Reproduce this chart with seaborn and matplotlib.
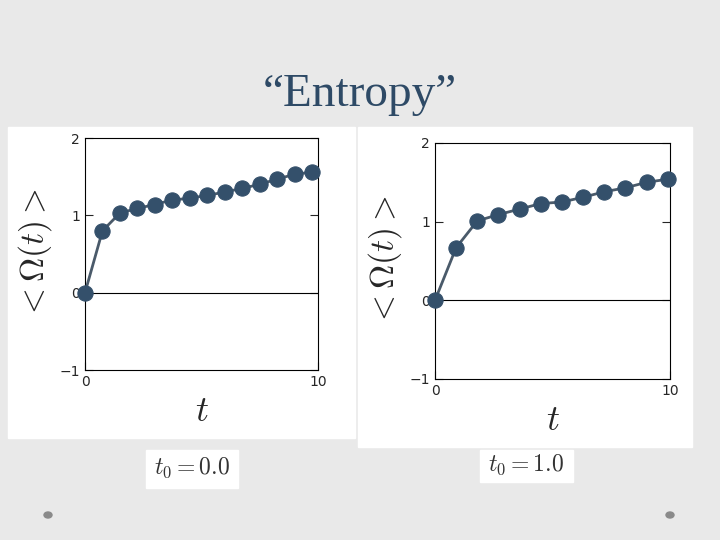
import matplotlib
matplotlib.use("Agg")
import matplotlib.pyplot as plt
import seaborn as sns
import pandas as pd
from matplotlib.patches import Rectangle, Circle

sns.set_style("white")
plt.rcParams["mathtext.fontset"] = "cm"

t_left = [0, 0.75, 1.5, 2.25, 3.0, 3.75, 4.5, 5.25, 6.0, 6.75, 7.5, 8.25, 9.0, 9.75]
omega_left = [0.0, 0.8, 1.03, 1.09, 1.14, 1.2, 1.22, 1.26, 1.3, 1.35, 1.4, 1.47, 1.53, 1.56]
t_right = [0, 0.9, 1.8, 2.7, 3.6, 4.5, 5.4, 6.3, 7.2, 8.1, 9.0, 9.9]
omega_right = [0.0, 0.67, 1.01, 1.09, 1.16, 1.23, 1.25, 1.31, 1.38, 1.43, 1.5, 1.54]
captions = ["$t_0 = 0.0$", "$t_0 = 1.0$"]
yticks = [-1, 0, 1, 2]
xticks = [0, 10]

fig = plt.figure(figsize=(7.2, 5.4), dpi=100)
fig.patch.set_facecolor("#e9e9e9")
W, H = 720, 540
def box(x0, y0, x1, y1, color="white"):
    fig.add_artist(Rectangle((x0 / W, 1 - y1 / H), (x1 - x0) / W, (y1 - y0) / H,
                             transform=fig.transFigure, color=color, zorder=-10))
box(8, 127, 355, 438)
box(358, 127, 692, 447)
box(146, 450, 238, 488)
box(480, 450, 573, 482)
for cx in (48, 670):
    fig.add_artist(Circle((cx / W, 1 - 515 / H), 4 / W, transform=fig.transFigure,
                          color="#8a8a8a", zorder=-5))

fig.text(0.5, 1 - 95 / H, "\u201cEntropy\u201d", ha="center", va="center",
         fontsize=34, family="Liberation Serif", color="#2e4a66")

pos = [(85, 138, 318, 370), (435, 143, 670, 379)]
data = [(t_left, omega_left), (t_right, omega_right)]
for i, ((x0, y0, x1, y1), (tx, oy)) in enumerate(zip(pos, data)):
    ax = fig.add_axes([x0 / W, 1 - y1 / H, (x1 - x0) / W, (y1 - y0) / H])
    df = pd.DataFrame({"t": tx, "o": oy})
    ax.axhline(0, color="black", lw=0.8, zorder=1)
    sns.lineplot(data=df, x="t", y="o", ax=ax, color="#4a5a6a", lw=2,
                 marker="o", markersize=11, markerfacecolor="#34506b",
                 markeredgecolor="#34506b", zorder=3, clip_on=False)
    ax.set_xlim(0, 10)
    ax.set_ylim(-1, 2)
    ax.set_xticks(xticks)
    ax.set_yticks(yticks)
    ax.tick_params(direction="in", length=6, labelsize=10, right=True, top=False,
                   bottom=True, left=True)
    for s in ax.spines.values():
        s.set_color("black")
        s.set_linewidth(0.8)
    ax.set_xlabel("$t$", fontsize=26)
    ax.set_ylabel(r"$<\Omega(t)>$", fontsize=24)
    ax.set_facecolor("white")
    fig.text(((146 + 238) / 2 if i == 0 else (480 + 573) / 2) / W,
             1 - (468 if i == 0 else 465) / H, captions[i],
             ha="center", va="center", fontsize=17, color="#333333")

fig.savefig("out.png", dpi=100, facecolor=fig.get_facecolor())
